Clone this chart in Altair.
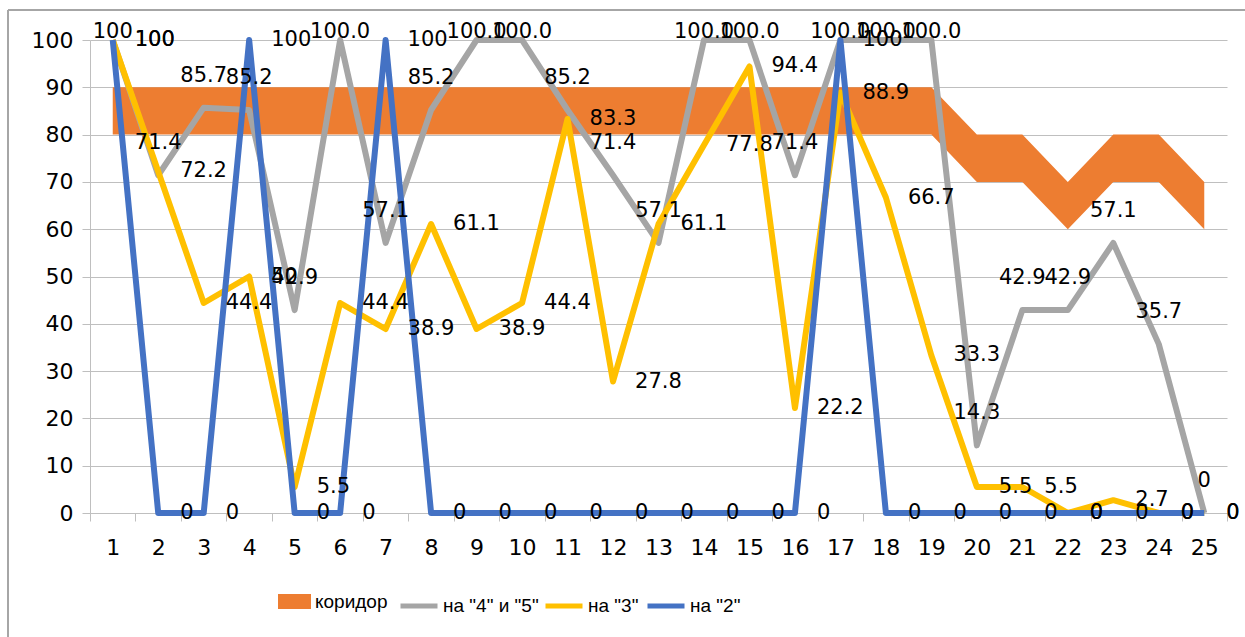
import altair as alt
import pandas as pd

cats = list(range(1, 26))
corr_low = [80]*19 + [70, 70, 60, 70, 70, 60]
corr_high = [90]*19 + [80, 80, 70, 80, 80, 70]

gray = [100, 71.4, 85.7, 85.2, 42.9, 100, 57.1, 85.2, 100, 100, 85.2, 71.4, 57.1,
        100, 100, 71.4, 100, 100, 100, 14.3, 42.9, 42.9, 57.1, 35.7, 0]
gray_lbl = ["100", "71.4", "85.7", "85.2", "42.9", "100.0", "57.1", "85.2", "100.0", "100.0",
            "85.2", "71.4", "57.1", "100.0", "100.0", "71.4", "100.0", "100.0", "100.0",
            "14.3", "42.9", "42.9", "57.1", "35.7", "0"]
yellow = [100, 72.2, 44.4, 50, 5.5, 44.4, 38.9, 61.1, 38.9, 44.4, 83.3, 27.8, 61.1,
          77.8, 94.4, 22.2, 88.9, 66.7, 33.3, 5.5, 5.5, 0, 2.7, 0, 0]
yellow_lbl = ["100", "72.2", "44.4", "50", "5.5", "44.4", "38.9", "61.1", "38.9", "44.4",
              "83.3", "27.8", "61.1", "77.8", "94.4", "22.2", "88.9", "66.7", "33.3",
              "5.5", "5.5", "0", "2.7", "0", "0"]
blue = [100, 0, 0, 100, 0, 0, 100, 0, 0, 0, 0, 0, 0, 0, 0, 0, 100, 0, 0, 0, 0, 0, 0, 0, 0]
blue_lbl = ["100", "0", "0", "100", "0", "0", "100", "0", "0", "0", "0", "0", "0", "0", "0",
            "0", "100", "0", "0", "0", "0", "0", "0", "0", "0"]

corr_name = "коридор"
s_gray = 'на "4" и "5"'
s_yellow = 'на "3"'
s_blue = 'на "2"'
line_series = [s_gray, s_yellow, s_blue]
line_colors = ["#A5A5A5", "#FFC000", "#4472C4"]
legend_x = [308, 453, 555]

corr_df = pd.DataFrame({"cat": cats, "low": corr_low, "high": corr_high, "series": corr_name})
rows = []
for name, vals, lbls in [(s_gray, gray, gray_lbl), (s_yellow, yellow, yellow_lbl), (s_blue, blue, blue_lbl)]:
    for c, v, l in zip(cats, vals, lbls):
        rows.append({"cat": c, "value": v, "label": l, "series": name})
df = pd.DataFrame(rows)

FONT = "DejaVu Sans"
LEG_FONT = "Liberation Sans"
LEG_Y = 545

xscale = alt.Scale(domain=[0.5, 25.5], nice=False, zero=False)
yscale = alt.Scale(domain=[0, 100], nice=False)
xaxis = alt.Axis(values=[i + 0.5 for i in range(26)],
                 labelExpr="datum.value < 25 ? format(datum.value + 0.5, 'd') : ''",
                 labelOffset=22.7, labelFlush=False, labelOverlap=False, grid=False,
                 tickSize=8, tickColor="#BFBFBF", domainColor="#BFBFBF", labelPadding=16,
                 labelFont=FONT, labelFontSize=22, labelColor="#000000", title=None)
yaxis = alt.Axis(values=list(range(0, 101, 10)), grid=True, gridColor="#BFBFBF",
                 tickSize=8, tickColor="#BFBFBF", domainColor="#BFBFBF", labelPadding=9,
                 labelFont=FONT, labelFontSize=22, labelColor="#000000", title=None)

area = alt.Chart(corr_df).mark_area(opacity=1).encode(
    x=alt.X("cat:Q", scale=xscale, axis=xaxis),
    y=alt.Y("low:Q", scale=yscale, axis=yaxis),
    y2="high:Q",
    fill=alt.Fill("series:N", scale=alt.Scale(domain=[corr_name], range=["#ED7D31"]),
                  legend=alt.Legend(orient="none", legendX=188, legendY=LEG_Y, title=None,
                                    symbolType="M-1,-0.45H1V0.45H-1Z", symbolSize=1089,
                                    symbolStrokeWidth=0, labelFont=LEG_FONT, labelFontSize=19,
                                    labelColor="#000000", labelOffset=4, padding=0)),
)

layers = [area]
for name, col, lx in zip(line_series, line_colors, legend_x):
    field = "s_" + str(lx)
    sub = df[df["series"] == name].rename(columns={"series": field})
    layers.append(
        alt.Chart(sub).mark_line(
            strokeWidth=6, strokeJoin="round", strokeCap="butt").encode(
            x=alt.X("cat:Q", scale=xscale, axis=xaxis),
            y=alt.Y("value:Q", scale=yscale, axis=yaxis),
            stroke=alt.Stroke(field + ":N", scale=alt.Scale(domain=[name], range=[col]),
                              legend=alt.Legend(orient="none", legendX=lx, legendY=LEG_Y,
                                                title=None, symbolType="stroke",
                                                symbolSize=1369, symbolStrokeWidth=5,
                                                labelFont=LEG_FONT, labelFontSize=19,
                                                labelColor="#000000", labelOffset=3,
                                                padding=0)),
        )
    )

gray_text = alt.Chart(df).transform_filter(alt.datum.series == s_gray).transform_calculate(
    ly="min(datum.value + 6.77, 101.7)").mark_text(
    align="center", baseline="middle", font=FONT, fontSize=21, color="#000000").encode(
    x=alt.X("cat:Q", scale=xscale), y=alt.Y("ly:Q", scale=yscale), text="label:N")
side_text = alt.Chart(df).transform_filter(alt.datum.series != s_gray).mark_text(
    align="left", baseline="middle", dx=22, font=FONT, fontSize=21, color="#000000").encode(
    x=alt.X("cat:Q", scale=xscale), y=alt.Y("value:Q", scale=yscale), text="label:N")

frame_left = alt.Chart(corr_df).mark_rule(color="#A6A6A6", strokeWidth=1.5, clip=False).encode(
    x=alt.value(-82), y=alt.value(-30), y2=alt.value(600))
frame_top = alt.Chart(corr_df).mark_rule(color="#A6A6A6", strokeWidth=1.5, clip=False).encode(
    x=alt.value(-82), x2=alt.value(1160), y=alt.value(-30))

chart = alt.layer(*layers, gray_text, side_text, frame_left, frame_top).resolve_scale(
    fill="independent", stroke="independent").properties(
    width=1137, height=473,
    autosize=alt.AutoSizeParams(type="none"),
    padding={"left": 90, "top": 40, "right": 18, "bottom": 124},
    background="#FFFFFF",
).configure_view(stroke=None)

chart.save("out.html", embed_options={"renderer": "svg", "actions": False})
